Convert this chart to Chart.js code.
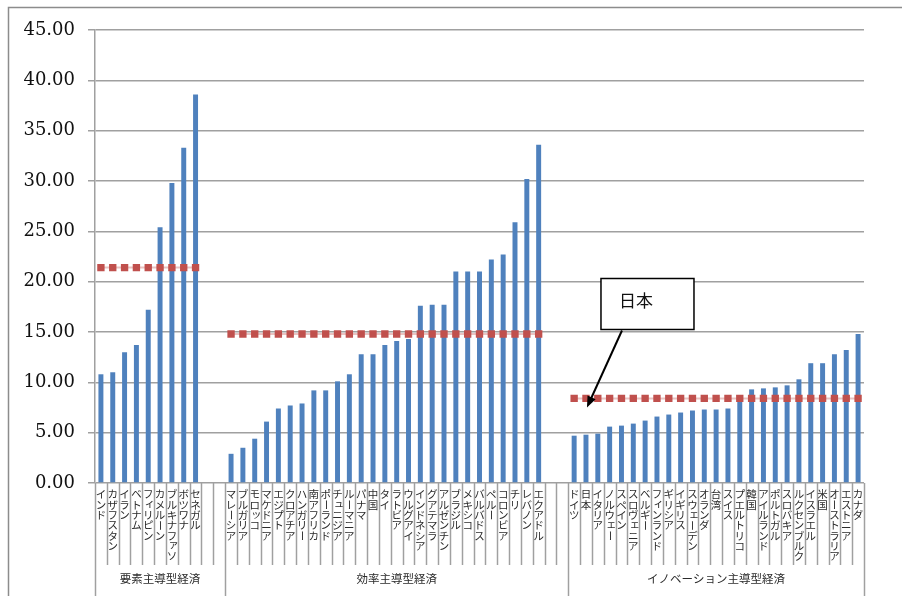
<!DOCTYPE html>
<html>
<head>
<meta charset="utf-8">
<script src="https://cdn.jsdelivr.net/npm/chart.js@4"></script>
<style>
  html, body { margin: 0; padding: 0; background: #fff; }
  canvas { display: block; }
</style>
</head>
<body>
<canvas id="c" width="902" height="596"></canvas>
<script>
// 要素主導型経済
const factorNames  = ['インド','カザフスタン','イラン','ベトナム','フィリピン','カメルーン','ブルキナファソ','ボツワナ','セネガル'];
const factorValues = [10.8, 11.0, 13.0, 13.7, 17.2, 25.4, 29.8, 33.3, 38.6];
const factorAvg    = 21.4;

// 効率主導型経済
const efficiencyNames  = ['マレーシア','ブルガリア','モロッコ','マケドニア','エジプト','クロアチア','ハンガリー','南アフリカ','ポーランド','チュニジア','ルーマニア','パナマ','中国','タイ','ラトビア','ウルグアイ','インドネシア','グアテマラ','アルゼンチン','ブラジル','メキシコ','バルバドス','ペルー','コロンビア','チリ','レバノン','エクアドル'];
const efficiencyValues = [2.9, 3.5, 4.4, 6.1, 7.4, 7.7, 7.9, 9.2, 9.2, 10.1, 10.8, 12.8, 12.8, 13.7, 14.1, 14.3, 17.6, 17.7, 17.7, 21.0, 21.0, 21.0, 22.2, 22.7, 25.9, 30.2, 33.6];
const efficiencyAvg    = 14.8;

// イノベーション主導型経済
const innovationNames  = ['ドイツ','日本','イタリア','ノルウェー','スペイン','スロヴェニア','ベルギー','フィンランド','ギリシア','イギリス','スウェーデン','オランダ','台湾','スイス','プエルトリコ','韓国','アイルランド','ポルトガル','スロバキア','ルクセンブルク','イスラエル','米国','オーストラリア','エストニア','カナダ'];
const innovationValues = [4.7, 4.8, 4.9, 5.6, 5.7, 5.9, 6.2, 6.6, 6.8, 7.0, 7.2, 7.3, 7.3, 7.4, 8.3, 9.3, 9.4, 9.5, 9.7, 10.3, 11.9, 11.9, 12.8, 13.2, 14.8];
const innovationAvg    = 8.4;

const groupNames = ['要素主導型経済','効率主導型経済','イノベーション主導型経済'];
const yTicks     = [0, 5, 10, 15, 20, 25, 30, 35, 40, 45];
const calloutText = '日本';
const calloutTip  = 7.5;

const GAP = 2;
const blanks = n => Array(n).fill(null);
const blankLabels = n => Array(n).fill('');

const labels = [...factorNames, ...blankLabels(GAP), ...efficiencyNames, ...blankLabels(GAP), ...innovationNames];
const barData = [...factorValues, ...blanks(GAP), ...efficiencyValues, ...blanks(GAP), ...innovationValues];
const avgData = [
  ...factorNames.map(() => factorAvg), ...blanks(GAP),
  ...efficiencyNames.map(() => efficiencyAvg), ...blanks(GAP),
  ...innovationNames.map(() => innovationAvg),
];
// group boundaries in slot indices
const groupEdges = [0, factorNames.length + GAP, factorNames.length + GAP + efficiencyNames.length + GAP, labels.length];
const jpIndex = labels.indexOf(calloutText);

const SMALL = 'ァィゥェォッャュョヮ';
const LINE_COLOR = '#a0a0a0';

const framePlugin = {
  id: 'frame',
  beforeDraw(chart) {
    const ctx = chart.ctx;
    ctx.save();
    ctx.fillStyle = '#fff';
    ctx.fillRect(0, 0, chart.width, chart.height);
    ctx.strokeStyle = '#8c8c8c';
    ctx.lineWidth = 1.5;
    ctx.strokeRect(8.5, 7.5, 1200, 1200);
    ctx.restore();
  }
};

const axisLabelPlugin = {
  id: 'axisLabels',
  afterDraw(chart) {
    const { ctx, scales: { x, y } } = chart;
    const base = y.getPixelForValue(0);
    const half = (x.getPixelForValue(1) - x.getPixelForValue(0)) / 2;
    ctx.save();
    ctx.strokeStyle = LINE_COLOR;
    ctx.lineWidth = 1.5;
    for (let i = 0; i <= labels.length; i++) {
      const bx = Math.round(x.getPixelForValue(i) - half) + 0.5;
      const long = groupEdges.includes(i);
      ctx.beginPath();
      ctx.moveTo(bx, base);
      ctx.lineTo(bx, long ? chart.height : base + 82);
      ctx.stroke();
    }
    // vertical category names
    ctx.fillStyle = '#2a2a2a';
    ctx.font = '10.5px "Noto Sans CJK JP"';
    ctx.textAlign = 'center';
    ctx.textBaseline = 'middle';
    const step = 10.3;
    labels.forEach((name, i) => {
      const cx = x.getPixelForValue(i);
      [...name].forEach((ch, k) => {
        const cy = base + 11.5 + k * step;
        if (ch === 'ー') {
          ctx.save();
          ctx.translate(cx, cy);
          ctx.rotate(Math.PI / 2);
          ctx.fillText(ch, 0, 0);
          ctx.restore();
        } else if (SMALL.includes(ch)) {
          ctx.fillText(ch, cx + 1.5, cy - 1.5);
        } else {
          ctx.fillText(ch, cx, cy);
        }
      });
    });
    // group names
    ctx.font = '11.5px "Noto Sans CJK JP"';
    for (let g = 0; g < groupNames.length; g++) {
      const l = x.getPixelForValue(groupEdges[g]) - half;
      const r = x.getPixelForValue(groupEdges[g + 1]) - half;
      ctx.fillText(groupNames[g], (l + r) / 2, base + 96);
    }
    ctx.restore();
  }
};

const calloutPlugin = {
  id: 'callout',
  afterDraw(chart) {
    const { ctx, scales: { x, y } } = chart;
    const jp = x.getPixelForValue(jpIndex);
    const tipX = jp + 1, tipY = y.getPixelForValue(calloutTip);
    const boxL = jp + 15, boxR = jp + 108, boxT = tipY - 129, boxB = tipY - 78;
    ctx.save();
    ctx.fillStyle = '#fff';
    ctx.fillRect(boxL, boxT, boxR - boxL, boxB - boxT);
    ctx.strokeStyle = '#000';
    ctx.lineWidth = 1.5;
    ctx.strokeRect(boxL, boxT, boxR - boxL, boxB - boxT);
    ctx.fillStyle = '#111';
    ctx.font = '17px "Noto Sans CJK JP"';
    ctx.textAlign = 'left';
    ctx.textBaseline = 'middle';
    ctx.fillText(calloutText, boxL + 18, boxT + 22);
    // arrow
    const sx = jp + 36, sy = boxB + 1;
    const ang = Math.atan2(tipY - sy, tipX - sx);
    const head = 12;
    const ex = tipX - Math.cos(ang) * head * 0.8, ey = tipY - Math.sin(ang) * head * 0.8;
    ctx.strokeStyle = '#000';
    ctx.lineWidth = 2;
    ctx.beginPath();
    ctx.moveTo(sx, sy);
    ctx.lineTo(ex, ey);
    ctx.stroke();
    ctx.fillStyle = '#000';
    ctx.beginPath();
    ctx.moveTo(tipX, tipY);
    ctx.lineTo(tipX - head * Math.cos(ang - 0.38), tipY - head * Math.sin(ang - 0.38));
    ctx.lineTo(tipX - head * Math.cos(ang + 0.38), tipY - head * Math.sin(ang + 0.38));
    ctx.closePath();
    ctx.fill();
    ctx.restore();
  }
};

new Chart(document.getElementById('c'), {
  data: {
    labels,
    datasets: [
      {
        type: 'line',
        data: avgData,
        borderColor: 'rgba(192, 80, 77, 0.35)',
        borderWidth: 2,
        pointStyle: 'rect',
        pointRadius: 5.2,
        pointBackgroundColor: '#c0504d',
        pointBorderWidth: 0,
        spanGaps: false,
        order: 0,
      },
      {
        type: 'bar',
        data: barData,
        backgroundColor: '#4f81bd',
        barPercentage: 0.42,
        categoryPercentage: 1,
        order: 1,
      },
    ],
  },
  options: {
    responsive: false,
    animation: false,
    events: [],
    layout: { padding: { top: 30, right: 38, left: 0, bottom: 0 } },
    plugins: { legend: { display: false }, tooltip: { enabled: false } },
    scales: {
      x: {
        type: 'category',
        offset: true,
        grid: { display: false },
        border: { display: false },
        ticks: { display: false },
        afterFit(scale) { scale.height = 113; },
      },
      y: {
        min: 0,
        max: 45,
        afterBuildTicks(scale) { scale.ticks = yTicks.map(v => ({ value: v })); },
        grid: { color: LINE_COLOR, lineWidth: 1.5, tickLength: 7 },
        border: { color: LINE_COLOR, width: 1.5 },
        ticks: {
          color: '#111',
          padding: 13,
          font: { family: '"DejaVu Serif", "Liberation Serif", serif', size: 18 },
          callback: v => Number(v).toFixed(2),
        },
        afterFit(scale) { scale.width = 95; },
      },
    },
  },
  plugins: [framePlugin, axisLabelPlugin, calloutPlugin],
});
</script>
</body>
</html>
